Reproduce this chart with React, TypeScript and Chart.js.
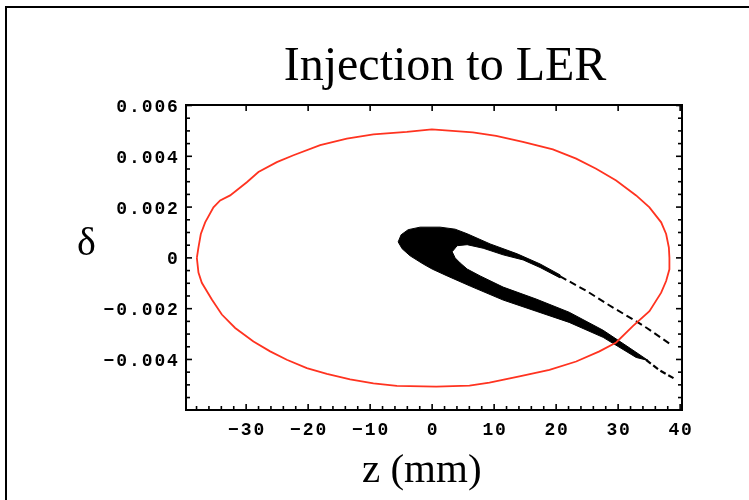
import React, { useEffect, useRef } from "react";
import { Chart, registerables } from "chart.js";

Chart.register(...registerables);

// ---- text ----
const TITLE = "Injection to LER";
const X_LABEL = "z (mm)";
const Y_LABEL = "δ";

// ---- axes ----
const xRange = [-39.7, 40.3];
const yRange = [-0.00599, 0.00602];
const xMajorTicks = [-30, -20, -10, 0, 10, 20, 30, 40];
const xTickLabels = ["−30", "−20", "−10", "0", "10", "20", "30", "40"];
const yMajorTicks = [-0.004, -0.002, 0, 0.002, 0.004, 0.006];
const yTickLabels = ["−0.004", "−0.002", "0", "0.002", "0.004", "0.006"];

// ---- red acceptance boundary (z in mm, delta) ----
const ellipseZ = [
  -37.95, -37.69, -37.31, -36.61, -35.27, -34.19, -32.58, -29.89, -28.02, -25.05,
  -22.37, -18.06, -13.76, -9.47, -4.08, -0.05, 6.56, 10.32, 14.63, 19.47,
  23.23, 26.45, 29.68, 32.9, 35.05, 36.94, 37.74, 38.18, 38.27, 38.27,
  37.74, 36.94, 35.05, 32.37, 29.68, 26.98, 23.23, 18.92, 14.08, 9.24,
  6.02, 0.65, -5.69, -9.47, -13.23, -16.98, -20.21, -23.44, -26.13, -28.82,
  -31.77, -33.92, -35.53, -37.15, -37.69, -37.95,
];
const ellipseDelta = [
  0, 0.00041, 0.00094, 0.0014, 0.00199, 0.00226, 0.00246, 0.00298, 0.00338, 0.00377,
  0.00404, 0.00444, 0.0047, 0.00486, 0.00496, 0.00506, 0.00494, 0.0048, 0.00457, 0.00427,
  0.00391, 0.00351, 0.00305, 0.00246, 0.00199, 0.0014, 0.00094, 0.00041, 0, -0.00045,
  -0.00091, -0.00137, -0.0021, -0.00269, -0.00333, -0.00368, -0.00408, -0.00441, -0.00467, -0.00491,
  -0.00503, -0.00507, -0.00504, -0.00494, -0.00478, -0.00457, -0.00434, -0.00401, -0.00368, -0.00329,
  -0.00276, -0.00223, -0.00164, -0.00098, -0.00058, 0,
];

// ---- injected bunch outline (black, C-shaped region) ----
const bunchZ = [
  -5.48, -5.0, -3.87, -1.94, 1.29, 3.71, 5.65, 9.35, 13.71, 17.42,
  20.65, 20.65, 17.42, 14.68, 11.45, 8.23, 5.65, 4.03, 3.23, 3.71,
  4.52, 5.65, 7.74, 11.45, 16.77, 22.1, 27.58, 31.94, 34.84, 32.9,
  27.58, 22.1, 16.77, 11.45, 6.13, 2.42, 0, -1.45, -3.55, -4.84,
];
const bunchDelta = [
  0.00063, 0.00091, 0.00111, 0.00121, 0.00121, 0.00113, 0.00095, 0.00055, 0.00016, -0.00024,
  -0.00067, -0.00079, -0.00038, -0.00008, 0.00012, 0.00038, 0.00052, 0.00048, 0.00024, 0,
  -0.0002, -0.00044, -0.00071, -0.00115, -0.00162, -0.00214, -0.00285, -0.00356, -0.00404, -0.00392,
  -0.00313, -0.00254, -0.0021, -0.00166, -0.00111, -0.00071, -0.00044, -0.00024, 0.00008, 0.00036,
];

// ---- sparse tails ----
const upperTailZ = [20.65, 24.95, 29.24, 32.47, 34.63, 38.71];
const upperTailDelta = [-0.00073, -0.00131, -0.00197, -0.00243, -0.00276, -0.00345];
const lowerTailZ = [34.5, 36.77, 39.35];
const lowerTailDelta = [-0.00402, -0.00444, -0.00479];

const toPoints = (xs: number[], ys: number[]) => xs.map((x, i) => ({ x, y: ys[i] }));

// fills a dataset's outline (points placed by the chart's own scales)
const shapeFillPlugin = {
  id: "shapeFill",
  beforeDatasetDraw(chart: any, args: any) {
    const ds = chart.data.datasets[args.index];
    if (!ds.shapeFill) return;
    const pts = args.meta.data;
    if (!pts.length) return;
    const ctx = chart.ctx;
    const a = chart.chartArea;
    ctx.save();
    ctx.beginPath();
    ctx.rect(a.left, a.top, a.right - a.left, a.bottom - a.top);
    ctx.clip();
    ctx.beginPath();
    pts.forEach((p: any, i: number) => (i ? ctx.lineTo(p.x, p.y) : ctx.moveTo(p.x, p.y)));
    ctx.closePath();
    ctx.fillStyle = ds.shapeFill;
    ctx.fill();
    ctx.lineWidth = 1;
    ctx.strokeStyle = ds.shapeFill;
    ctx.stroke();
    ctx.restore();
  },
};

const framePlugin = {
  id: "mmaFrame",
  afterDraw(chart: any) {
    const { ctx, chartArea: a, scales } = chart;
    const xs = scales.x;
    const ys = scales.y;
    ctx.save();
    ctx.strokeStyle = "#000";
    ctx.lineWidth = 2;
    ctx.strokeRect(a.left, a.top, a.right - a.left, a.bottom - a.top);
    ctx.lineWidth = 1.6;
    const tick = (x1: number, y1: number, x2: number, y2: number) => {
      ctx.beginPath();
      ctx.moveTo(x1, y1);
      ctx.lineTo(x2, y2);
      ctx.stroke();
    };
    for (let v = -38; v <= 40; v += 2) {
      const px = xs.getPixelForValue(v);
      const major = v % 10 === 0;
      tick(px, a.bottom, px, a.bottom - (major ? 6 : 4));
      if (major) tick(px, a.top, px, a.top + 6);
    }
    for (let k = -12; k <= 12; k++) {
      const v = k * 0.0005;
      if (v < yRange[0] || v > yRange[1]) continue;
      const py = ys.getPixelForValue(v);
      const major = k % 4 === 0;
      const len = major ? 6 : 4;
      tick(a.left, py, a.left + len, py);
      tick(a.right, py, a.right - len, py);
    }
    ctx.fillStyle = "#000";
    ctx.font = "bold 18px 'Liberation Mono', 'DejaVu Sans Mono', monospace";
    ctx.textAlign = "center";
    ctx.textBaseline = "alphabetic";
    const adv = 12.7;
    xMajorTicks.forEach((v, i) => {
      const chars = Array.from(xTickLabels[i]);
      const px = xs.getPixelForValue(v);
      chars.forEach((c, j) => ctx.fillText(c, px + (j - (chars.length - 1) / 2) * adv, a.bottom + 25));
    });
    yMajorTicks.forEach((v, i) => {
      const chars = Array.from(yTickLabels[i]);
      const py = ys.getPixelForValue(v);
      chars.forEach((c, j) => ctx.fillText(c, a.left - 13.5 - (chars.length - 1 - j) * adv, py + 6.5));
    });
    ctx.restore();
  },
};

const serif = "'Liberation Serif', 'Times New Roman', serif";

export default function App() {
  const ref = useRef<HTMLCanvasElement | null>(null);
  useEffect(() => {
    if (!ref.current) return;
    const chart = new Chart(ref.current, {
      type: "scatter",
      data: {
        datasets: [
          {
            data: [...toPoints(ellipseZ, ellipseDelta), toPoints(ellipseZ, ellipseDelta)[0]],
            showLine: true,
            borderColor: "#ff3320",
            borderWidth: 1.8,
            pointRadius: 0,
            fill: false,
          },
          {
            data: toPoints(bunchZ, bunchDelta),
            showLine: false,
            shapeFill: "#000",
            borderColor: "#000",
            pointRadius: 0,
            fill: false,
          },
          {
            data: toPoints(upperTailZ, upperTailDelta),
            showLine: true,
            borderColor: "#000",
            borderWidth: 2,
            borderDash: [7, 4],
            pointRadius: 0,
            fill: false,
          },
          {
            data: toPoints(lowerTailZ, lowerTailDelta),
            showLine: true,
            borderColor: "#000",
            borderWidth: 2.2,
            borderDash: [6, 3],
            pointRadius: 0,
            fill: false,
          },
        ],
      } as any,
      options: {
        responsive: false,
        animation: false,
        devicePixelRatio: 1,
        events: [],
        layout: { padding: { left: 186, top: 105, right: 67, bottom: 90 } },
        plugins: {
          legend: { display: false },
          tooltip: { enabled: false },
          title: { display: false },
        },
        scales: {
          x: { type: "linear", min: xRange[0], max: xRange[1], display: false },
          y: { type: "linear", min: yRange[0], max: yRange[1], display: false },
        },
      } as any,
      plugins: [shapeFillPlugin, framePlugin],
    });
    return () => chart.destroy();
  }, []);

  return (
    <div style={{ position: "absolute", left: 0, top: 0, width: 749, height: 500, background: "#fff", overflow: "hidden" }}>
      <div
        style={{
          position: "absolute",
          left: 5,
          top: 6,
          width: 900,
          height: 700,
          border: "2px solid #000",
          boxSizing: "border-box",
        }}
      />
      <canvas ref={ref} width={749} height={500} style={{ position: "absolute", left: 0, top: 0 }} />
      <div
        style={{
          position: "absolute",
          left: 445,
          top: 40,
          transform: "translateX(-50%)",
          fontFamily: serif,
          fontSize: 48,
          lineHeight: "48px",
          whiteSpace: "nowrap",
          color: "#000",
        }}
      >
        {TITLE}
      </div>
      <div
        style={{
          position: "absolute",
          left: 77,
          top: 222,
          fontFamily: serif,
          fontSize: 40,
          lineHeight: "40px",
          whiteSpace: "nowrap",
          color: "#000",
        }}
      >
        {Y_LABEL}
      </div>
      <div
        style={{
          position: "absolute",
          left: 362,
          top: 447.7,
          fontFamily: serif,
          fontSize: 41,
          lineHeight: "41px",
          whiteSpace: "nowrap",
          color: "#000",
        }}
      >
        {X_LABEL}
      </div>
    </div>
  );
}
